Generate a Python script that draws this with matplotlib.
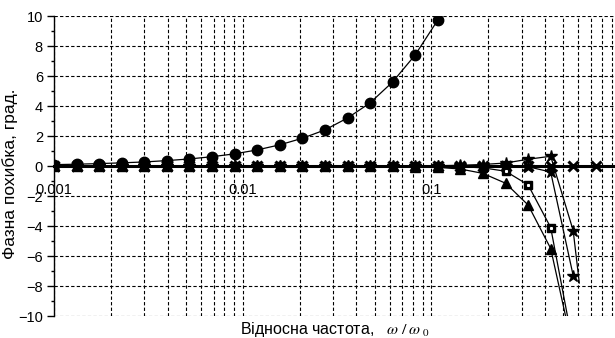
import numpy as np
import matplotlib.pyplot as plt
from matplotlib.ticker import FixedLocator, NullFormatter

plt.rcParams['font.family'] = ['Liberation Sans', 'DejaVu Sans']
plt.rcParams['mathtext.fontset'] = 'stix'

# relative frequency points
w = [0.001, 0.00132, 0.00173, 0.00228, 0.00301, 0.00396, 0.00522, 0.00687,
     0.00905, 0.0119, 0.0157, 0.0207, 0.0272, 0.0359, 0.0472, 0.0622,
     0.0819, 0.108, 0.142, 0.187, 0.247, 0.325, 0.428, 0.563, 0.742]

# phase error, degrees
circ = [0.09, 0.12, 0.16, 0.21, 0.27, 0.36, 0.47, 0.62, 0.81, 1.07, 1.41,
        1.85, 2.4, 3.2, 4.2, 5.6, 7.4, 9.73]
sq = [0, 0, 0, 0, 0, 0, 0, 0, 0, 0, 0, 0, 0, 0, 0, -0.01, -0.02, -0.03,
      -0.05, -0.12, -0.35, -1.26, -4.1, -12.0]
tri = [0, 0, 0, 0, 0, 0, 0, 0, 0, 0, 0, 0, 0, -0.01, -0.02, -0.03, -0.05,
       -0.09, -0.2, -0.49, -1.15, -2.6, -5.5, -12.3]
star1 = [0, 0, 0, 0, 0, 0, 0, 0, 0, 0, 0, 0, 0, 0, 0, 0, 0.01, 0.02,
         0.05, 0.1, 0.2, 0.45, 0.65, -4.3]
star1_tail_w = [0.563, 0.607]
star1_tail = [-4.3, -7.8]
star2 = [0, 0, 0, 0, 0, 0, 0, 0, 0, 0, 0, 0, 0, 0, 0, 0, 0, 0,
         0, 0, 0, -0.05, -0.4, -7.3]
cross = [0] * 25

fig = plt.figure(figsize=(6.15, 3.38), dpi=100)
ax = fig.add_axes([54 / 615, 22 / 338, 1 - 54 / 615, 300 / 338])
ax.set_xscale('log')
ax.set_xlim(0.001, 0.938)
ax.set_ylim(-10, 10)

lw = 0.9
ax.plot(w, cross, color='k', lw=lw, marker='x', ms=6.5, mew=2.2, zorder=3)
ax.plot(w[:24], star2, color='k', lw=lw, marker='*', ms=9, zorder=3.1)
ax.plot(w[:24], star1, color='k', lw=lw, marker='*', ms=9, zorder=3.2)
ax.plot(star1_tail_w, star1_tail, color='k', lw=lw, zorder=3.2)
ax.plot(w[:24], tri, color='k', lw=lw, marker='^', ms=6.5, markevery=range(23),
        zorder=3.3)
ax.plot(w[:24], sq, color='k', lw=lw, marker='s', ms=6, markevery=range(23),
        zorder=3.4)
ax.plot(w[:24], sq, ls='none', marker='s', ms=1.2, color='white',
        markevery=[20, 21, 22], zorder=3.45)
ax.plot(w[:18], circ, color='k', lw=lw, marker='o', ms=7.5, zorder=3.6)

# axes: y spine on the left, x spine through zero
for s in ['top', 'right']:
    ax.spines[s].set_visible(False)
ax.spines['bottom'].set_position(('data', 0))
ax.spines['bottom'].set_linewidth(2.2)
ax.spines['left'].set_linewidth(1.0)

ax.xaxis.set_major_locator(FixedLocator([0.001, 0.01, 0.1]))
ax.set_xticklabels(['0.001', '0.01', '0.1'])
minors = [m * d for d in [0.001, 0.01, 0.1] for m in range(2, 10)]
ax.xaxis.set_minor_locator(FixedLocator(minors))
ax.xaxis.set_minor_formatter(NullFormatter())
ax.tick_params(axis='x', which='both', length=0, pad=12, labelsize=10.5)

ax.set_yticks(np.arange(-10, 11, 2))
ax.set_yticks(np.arange(-9, 10, 2), minor=True)
ax.tick_params(axis='y', which='major', length=5, width=1, pad=3,
               labelsize=10.5)
ax.tick_params(axis='y', which='minor', length=2.5, width=1)

ax.grid(True, which='major', axis='y', color='k', lw=0.8, ls=(0, (3, 2)))
ax.grid(True, which='both', axis='x', color='k', lw=0.8, ls=(0, (3, 2)))

ax.set_xlabel('Відносна частота,   ' + r'$\omega\;/\;\omega_{\;0}$',
              fontsize=11.5)
ax.xaxis.set_label_coords(0.5, -0.012)
ax.set_ylabel('Фазна похибка, град.', fontsize=12.5)
ax.yaxis.set_label_coords(-0.064, 0.475)

fig.savefig('out.png', dpi=100)
